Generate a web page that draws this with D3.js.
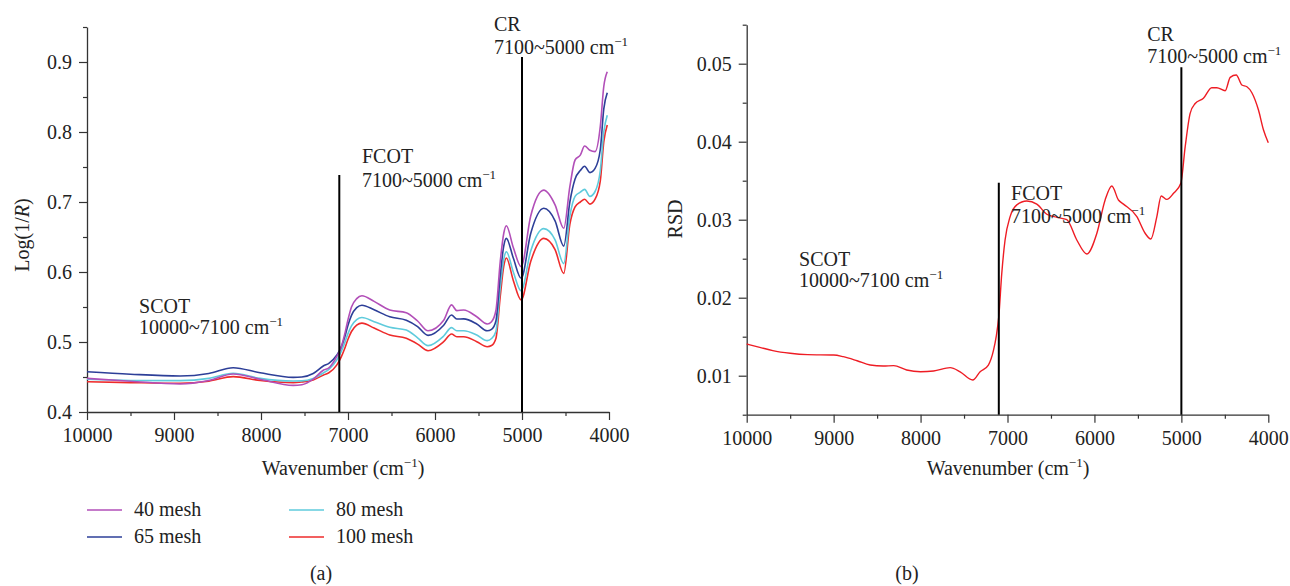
<!DOCTYPE html>
<html>
<head>
<meta charset="utf-8">
<script src="https://cdn.jsdelivr.net/npm/d3@7"></script>
<style>
body { margin: 0; background: #fff; }
svg { display: block; font-family: "Liberation Serif", "DejaVu Serif", serif; }
</style>
</head>
<body>
<svg id="chart" width="1290" height="586"></svg>
<script>
// ---- data ----
const wavenumbers = [10000, 9500, 8930, 8600, 8320, 8010, 7630, 7530, 7400, 7280, 7220,
    7130, 7080, 7040, 7000, 6960, 6900, 6840, 6700, 6520, 6330, 6200, 6080,
    5900, 5810, 5750, 5670, 5520, 5400, 5350, 5300, 5250, 5210, 5180,
    5100, 5010, 4900, 4750, 4620, 4520, 4450, 4390, 4330, 4280,
    4220, 4160, 4100, 4060, 4020];

const mesh40 = [0.448, 0.444, 0.440, 0.445, 0.4543, 0.4467, 0.438, 0.439, 0.447, 0.460, 0.463,
    0.479, 0.492, 0.510, 0.532, 0.550, 0.562, 0.566, 0.558, 0.5457, 0.5419, 0.530, 0.516,
    0.531, 0.553, 0.5448, 0.5457, 0.536, 0.5257, 0.529, 0.545, 0.615, 0.655, 0.666,
    0.635, 0.6076, 0.680, 0.717, 0.696, 0.6624, 0.722, 0.760, 0.767, 0.780,
    0.774, 0.772, 0.808, 0.865, 0.886];

const mesh65 = [0.4576, 0.454, 0.4514, 0.455, 0.4633, 0.456, 0.4495, 0.450, 0.455, 0.466, 0.4695,
    0.481, 0.492, 0.506, 0.524, 0.538, 0.549, 0.5525, 0.546, 0.536, 0.531, 0.522, 0.5095,
    0.524, 0.5386, 0.5329, 0.533, 0.5257, 0.516, 0.518, 0.530, 0.595, 0.637, 0.648,
    0.620, 0.591, 0.655, 0.691, 0.673, 0.637, 0.700, 0.733, 0.745, 0.751,
    0.742, 0.748, 0.775, 0.833, 0.856];

const mesh80 = [0.4467, 0.445, 0.4448, 0.448, 0.4553, 0.448, 0.4443, 0.4445, 0.448, 0.456, 0.461,
    0.474, 0.486, 0.498, 0.512, 0.523, 0.532, 0.535, 0.529, 0.521, 0.517, 0.506, 0.4948,
    0.5086, 0.5205, 0.516, 0.516, 0.510, 0.5019, 0.505, 0.515, 0.578, 0.618, 0.629,
    0.600, 0.573, 0.630, 0.662, 0.646, 0.612, 0.680, 0.708, 0.714, 0.718,
    0.708, 0.715, 0.745, 0.800, 0.824];

const mesh100 = [0.4433, 0.442, 0.441, 0.444, 0.4505, 0.445, 0.442, 0.443, 0.4457, 0.453, 0.456,
    0.467, 0.478, 0.490, 0.504, 0.515, 0.524, 0.527, 0.520, 0.510, 0.5052, 0.497, 0.4876,
    0.5005, 0.5114, 0.5076, 0.5076, 0.5005, 0.4933, 0.495, 0.505, 0.565, 0.608, 0.620,
    0.588, 0.560, 0.615, 0.648, 0.632, 0.598, 0.668, 0.693, 0.700, 0.704,
    0.697, 0.704, 0.730, 0.786, 0.810];

const seriesNames = ["40 mesh", "65 mesh", "80 mesh", "100 mesh"];
const seriesValues = [mesh40, mesh65, mesh80, mesh100];
const seriesColors = ["#b24fb8", "#2d3f98", "#5fcbdc", "#ee2b2b"];

const rsdWavenumbers = [10000, 9850, 9700, 9500, 9300, 9000, 8890, 8730, 8580, 8430, 8310, 8160,
    8000, 7850, 7660, 7545, 7400, 7315, 7220, 7160, 7130, 7100, 7066, 7028, 6970, 6893,
    6778, 6663, 6548, 6430, 6318, 6203, 6087, 5972, 5877, 5800, 5724, 5666, 5512, 5417,
    5351, 5282, 5232, 5167, 5090, 5006, 4956, 4899, 4841, 4746, 4651, 4592, 4496, 4438,
    4369, 4304, 4246, 4189, 4113, 4055, 4000];
const rsdValues = [0.01406, 0.01364, 0.01321, 0.01287, 0.0127, 0.01265, 0.01244, 0.01192, 0.01137,
    0.01124, 0.01129, 0.01073, 0.01051, 0.0106, 0.01103, 0.0105, 0.00945, 0.01051, 0.01137,
    0.0133, 0.0150, 0.0176, 0.0231, 0.0274, 0.0304, 0.0319, 0.0324, 0.0320, 0.0307, 0.0303,
    0.0300, 0.0274, 0.0256, 0.02826, 0.03253, 0.03432, 0.03253, 0.0320, 0.0304, 0.02826,
    0.02753, 0.0304, 0.03304, 0.0326, 0.03338, 0.03467, 0.03936, 0.04364, 0.0449, 0.04556,
    0.04692, 0.04692, 0.04654, 0.04825, 0.04855, 0.04727, 0.04705, 0.04628, 0.04406,
    0.0415, 0.03987];

const xTicks = [10000, 9000, 8000, 7000, 6000, 5000, 4000];
const xMinorTicks = [9500, 8500, 7500, 6500, 5500, 4500];
const leftYTicks = [0.4, 0.5, 0.6, 0.7, 0.8, 0.9];
const leftYMinor = [0.45, 0.55, 0.65, 0.75, 0.85, 0.95];
const rightYTicks = [0.01, 0.02, 0.03, 0.04, 0.05];
const rightYMinor = [0.005, 0.015, 0.025, 0.035, 0.045, 0.055];

// region boundaries, with the value where each marker line stops
const leftRegionLines = [{ w: 7100, top: 0.7386 }, { w: 5000, top: 0.9071 }];
const rightRegionLines = [{ w: 7100, top: 0.03474 }, { w: 5000, top: 0.04954 }];

const leftNotes = [
    { name: "SCOT", range: "10000~7100", w: 9402, v: 0.5414, gap: 21 },
    { name: "FCOT", range: "7100~5000", w: 6839, v: 0.7557, gap: 24 },
    { name: "CR", range: "7100~5000", w: 5322, v: 0.9443, gap: 23 }
];
const rightNotes = [
    { name: "SCOT", range: "10000~7100", w: 9398, v: 0.02407, gap: 21 },
    { name: "FCOT", range: "7100~5000", w: 6959, v: 0.03253, gap: 23 },
    { name: "CR", range: "7100~5000", w: 5393, v: 0.05291, gap: 22 }
];

var svg = d3.select("#chart");
const ink = "#222";

// ---- scales ----
var xLeft = d3.scaleLinear().domain([10000, 4000]).range([87, 609]);
var yLeft = d3.scaleLinear().domain([0.4, 0.95]).range([412, 27]);
var xRight = d3.scaleLinear().domain([10000, 4000]).range([746.7, 1268.3]);
var yRight = d3.scaleLinear().domain([0.005, 0.055]).range([414.7, 24.7]);

function styleAxis(sel) {
    sel.select(".domain").attr("stroke", "#333").attr("stroke-width", 1.3);
    sel.selectAll(".tick line").attr("stroke", "#333").attr("stroke-width", 1.2);
    sel.selectAll(".tick text").attr("fill", ink).attr("font-size", 20)
        .attr("font-family", "Liberation Serif, serif");
}

function drawAxes(x, y, yTicks, yMinor, fmt) {
    const x0 = x.range()[0];
    const y0 = y.range()[0];

    svg.append("g").attr("transform", `translate(0,${y0})`)
        .call(d3.axisBottom(x).tickValues(xMinorTicks).tickSize(4).tickFormat("").tickSizeOuter(0))
        .call(g => g.select(".domain").remove())
        .call(styleAxis);
    svg.append("g").attr("transform", `translate(0,${y0})`)
        .call(d3.axisBottom(x).tickValues(xTicks).tickSize(8).tickPadding(8)
            .tickFormat(d3.format("d")).tickSizeOuter(0))
        .call(styleAxis);

    svg.append("g").attr("transform", `translate(${x0},0)`)
        .call(d3.axisLeft(y).tickValues(yMinor).tickSize(4).tickFormat("").tickSizeOuter(0))
        .call(g => g.select(".domain").remove())
        .call(styleAxis);
    svg.append("g").attr("transform", `translate(${x0},0)`)
        .call(d3.axisLeft(y).tickValues(yTicks).tickSize(8).tickPadding(7)
            .tickFormat(d3.format(fmt)).tickSizeOuter(0))
        .call(styleAxis);
}

function unitText(sel, before, after) {
    sel.append("tspan").text(before + "cm");
    sel.append("tspan").attr("dy", -8).attr("font-size", 13).text("\u22121");
    if (after) sel.append("tspan").attr("dy", 8).text(after);
}

function drawRegions(x, y, lines, notes) {
    svg.append("g").selectAll("line")
        .data(lines)
        .enter()
        .append("line")
        .attr("x1", d => x(d.w))
        .attr("x2", d => x(d.w))
        .attr("y1", y.range()[0])
        .attr("y2", d => y(d.top))
        .attr("stroke", "#000")
        .attr("stroke-width", 2);

    notes.forEach(function (n) {
        const t = svg.append("text")
            .attr("x", x(n.w))
            .attr("y", y(n.v))
            .attr("font-size", 20)
            .attr("fill", ink);
        t.append("tspan").text(n.name);
        const t2 = svg.append("text")
            .attr("x", x(n.w))
            .attr("y", y(n.v) + n.gap)
            .attr("font-size", 20)
            .attr("fill", ink);
        unitText(t2, n.range + " ", null);
    });
}

function xTitle(x, cx) {
    const t = svg.append("text")
        .attr("x", cx)
        .attr("y", 475)
        .attr("text-anchor", "middle")
        .attr("font-size", 20)
        .attr("fill", ink);
    unitText(t, "Wavenumber (", ")");
}

// ---- panel (a) ----
drawAxes(xLeft, yLeft, leftYTicks, leftYMinor, ".1f");

var lineLeft = d3.line()
    .x(d => xLeft(d[0]))
    .y(d => yLeft(d[1]))
    .curve(d3.curveMonotoneX);

// draw 100 mesh first so the upper curves sit on top
for (let i = seriesValues.length - 1; i >= 0; i--) {
    const pts = wavenumbers.map((w, j) => [w, seriesValues[i][j]]);
    svg.append("path")
        .datum(pts)
        .attr("d", lineLeft)
        .attr("fill", "none")
        .attr("stroke", seriesColors[i])
        .attr("stroke-width", 1.6);
}

drawRegions(xLeft, yLeft, leftRegionLines, leftNotes);
xTitle(xLeft, 343);

svg.append("text")
    .attr("transform", "translate(29,235) rotate(-90)")
    .attr("text-anchor", "middle")
    .attr("font-size", 20)
    .attr("fill", ink)
    .call(t => {
        t.append("tspan").text("Log(1/");
        t.append("tspan").attr("font-style", "italic").text("R");
        t.append("tspan").text(")");
    });

// legend, two columns
var legend = svg.append("g").selectAll("g")
    .data(seriesNames)
    .enter()
    .append("g")
    .attr("transform", (d, i) => `translate(${87 + Math.floor(i / 2) * 202},${510 + (i % 2) * 27})`);
legend.append("line")
    .attr("x1", 0).attr("x2", 35)
    .attr("stroke", (d, i) => seriesColors[i])
    .attr("stroke-width", 1.6);
legend.append("text")
    .attr("x", 47)
    .attr("y", 6)
    .attr("font-size", 20)
    .attr("fill", ink)
    .text(d => d);

svg.append("text")
    .attr("x", 321).attr("y", 580)
    .attr("text-anchor", "middle")
    .attr("font-size", 20)
    .attr("fill", ink)
    .text("(a)");

// ---- panel (b) ----
drawAxes(xRight, yRight, rightYTicks, rightYMinor, ".2f");

var lineRight = d3.line()
    .x(d => xRight(d[0]))
    .y(d => yRight(d[1]))
    .curve(d3.curveMonotoneX);

svg.append("path")
    .datum(rsdWavenumbers.map((w, j) => [w, rsdValues[j]]))
    .attr("d", lineRight)
    .attr("fill", "none")
    .attr("stroke", "#ee1c24")
    .attr("stroke-width", 1.4);

drawRegions(xRight, yRight, rightRegionLines, rightNotes);
xTitle(xRight, 1008);

svg.append("text")
    .attr("transform", "translate(682,219) rotate(-90)")
    .attr("text-anchor", "middle")
    .attr("font-size", 20)
    .attr("fill", ink)
    .text("RSD");

svg.append("text")
    .attr("x", 907).attr("y", 580)
    .attr("text-anchor", "middle")
    .attr("font-size", 20)
    .attr("fill", ink)
    .text("(b)");
</script>
</body>
</html>
